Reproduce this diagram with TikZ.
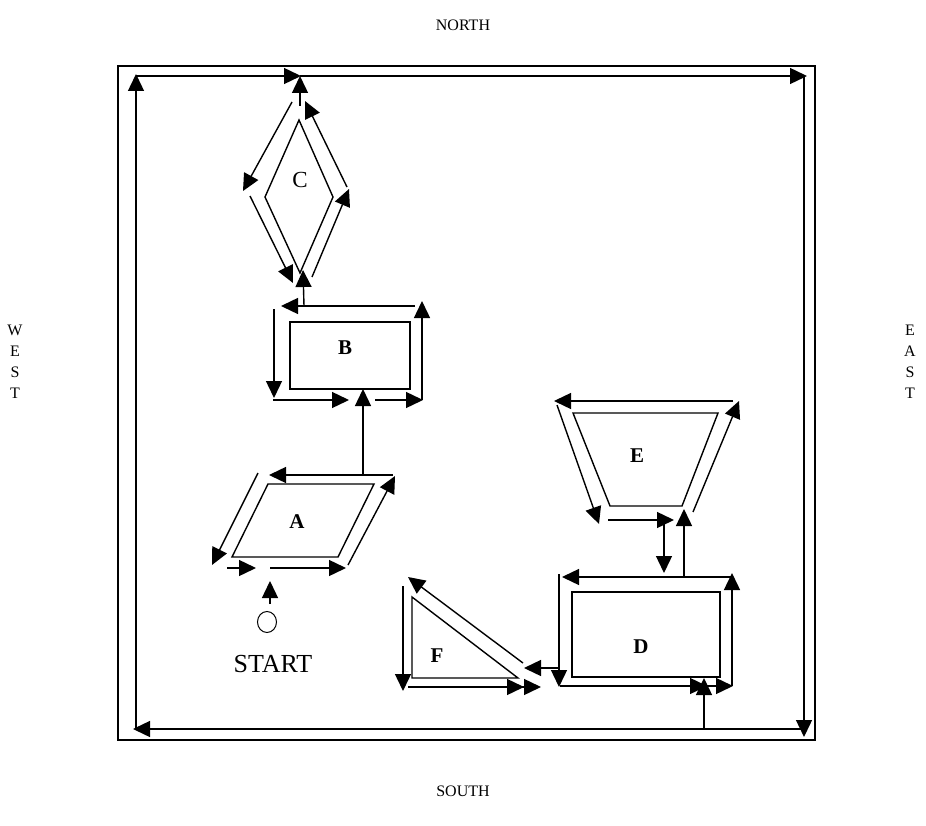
\documentclass[tikz,border=0pt]{standalone}
\usepackage{fontspec}
\setmainfont{Liberation Serif}
\usetikzlibrary{arrows.meta}
\tikzset{
  every picture/.style={line width=1.4pt},
  arr/.style={-{Triangle[length=17pt, width=16pt]}},
  darr/.style={-{Triangle[length=17pt, width=16pt]Triangle[length=17pt, width=16pt]}},
  shp/.style={draw, line width=1.4pt},
  lbl/.style={font=\fontsize{21}{24}\selectfont\bfseries},
  side/.style={font=\fontsize{16}{21}\selectfont, align=center},
}
\begin{document}
\begin{tikzpicture}[x=1pt, y=-1pt]
  \useasboundingbox (0,0) rectangle (926,826);
  % compass words
  \node[side] (north) at (463,25) {NORTH};
  \node[side] (south) at (463,791) {SOUTH};
  \node[side] (west) at (15,362) {W\\E\\S\\T};
  \node[side] (east) at (910,362) {E\\A\\S\\T};
  % frame and the loop inside it
  \draw (118,66) rectangle (815,740);
  \draw[arr] (136,729) -- (136,74);
  \draw[arr] (136,76) -- (301,76);
  \draw[arr] (300,76) -- (807,76);
  \draw[arr] (804,76) -- (804,737);
  \draw[arr] (804,729) -- (133,729);
  % C
  \draw[shp] (299,120) -- (333,197) -- (300,273) -- (265,197) -- cycle;
  \node[font=\fontsize{23}{26}\selectfont] (lblC) at (300,180) {C};
  \draw[arr] (300,106) -- (300,76);
  \draw[arr] (292,102) -- (243,191);
  \draw[arr] (250,196) -- (293,283);
  \draw[arr] (312,277) -- (349,189);
  \draw[arr] (347,187) -- (305,101);
  \draw[arr] (304,306) -- (303,270);
  % B
  \draw[shp] (290,322) rectangle (410,389);
  \node[lbl] (lblB) at (345,348) {B};
  \draw[arr] (422,400) -- (422,301);
  \draw[arr] (415,306) -- (281,306);
  \draw[arr] (274,309) -- (274,398);
  \draw[arr] (273,400) -- (349,400);
  \draw[arr] (375,400) -- (423,400);
  \draw[arr] (363,475) -- (363,389);
  % A
  \draw[shp] (268,484) -- (374,484) -- (338,557) -- (232,557) -- cycle;
  \node[lbl] (lblA) at (297,522) {A};
  \draw[arr] (393,475) -- (269,475);
  \draw[arr] (258,473) -- (212,565);
  \draw[arr] (227,568) -- (256,568);
  \draw[arr] (270,568) -- (346,568);
  \draw[arr] (348,565) -- (395,476);
  \draw[arr] (270,604) -- (270,581);
  \draw[line width=1pt] (267,622) ellipse (9.5 and 10.5);
  \node[font=\fontsize{26}{29}\selectfont] (start) at (273,664) {START};
  % F
  \draw[shp] (412,597) -- (412,678) -- (518,678) -- cycle;
  \node[lbl] (lblF) at (437,656) {F};
  \draw[arr] (403,586) -- (403,691);
  \draw[darr] (408,687) -- (541,687);
  \draw[arr] (523,663) -- (408,577);
  \draw[arr] (558,668) -- (524,668);
  % D
  \draw[shp] (572,592) rectangle (720,677);
  \node[lbl] (lblD) at (641,647) {D};
  \draw[arr] (733,577) -- (562,577);
  \draw[arr] (559,574) -- (559,687);
  \draw[arr] (560,686) -- (707,686);
  \draw[arr] (707,686) -- (733,686);
  \draw[arr] (732,686) -- (732,573);
  \draw[arr] (704,729) -- (704,678);
  % E
  \draw[shp] (573,413) -- (718,413) -- (682,506) -- (610,506) -- cycle;
  \node[lbl] (lblE) at (637,456) {E};
  \draw[arr] (733,401) -- (554,401);
  \draw[arr] (557,405) -- (599,524);
  \draw[arr] (608,520) -- (674,520);
  \draw[arr] (693,512) -- (739,401);
  \draw[arr] (664,520) -- (664,573);
  \draw[arr] (684,577) -- (684,509);
\end{tikzpicture}
\end{document}
